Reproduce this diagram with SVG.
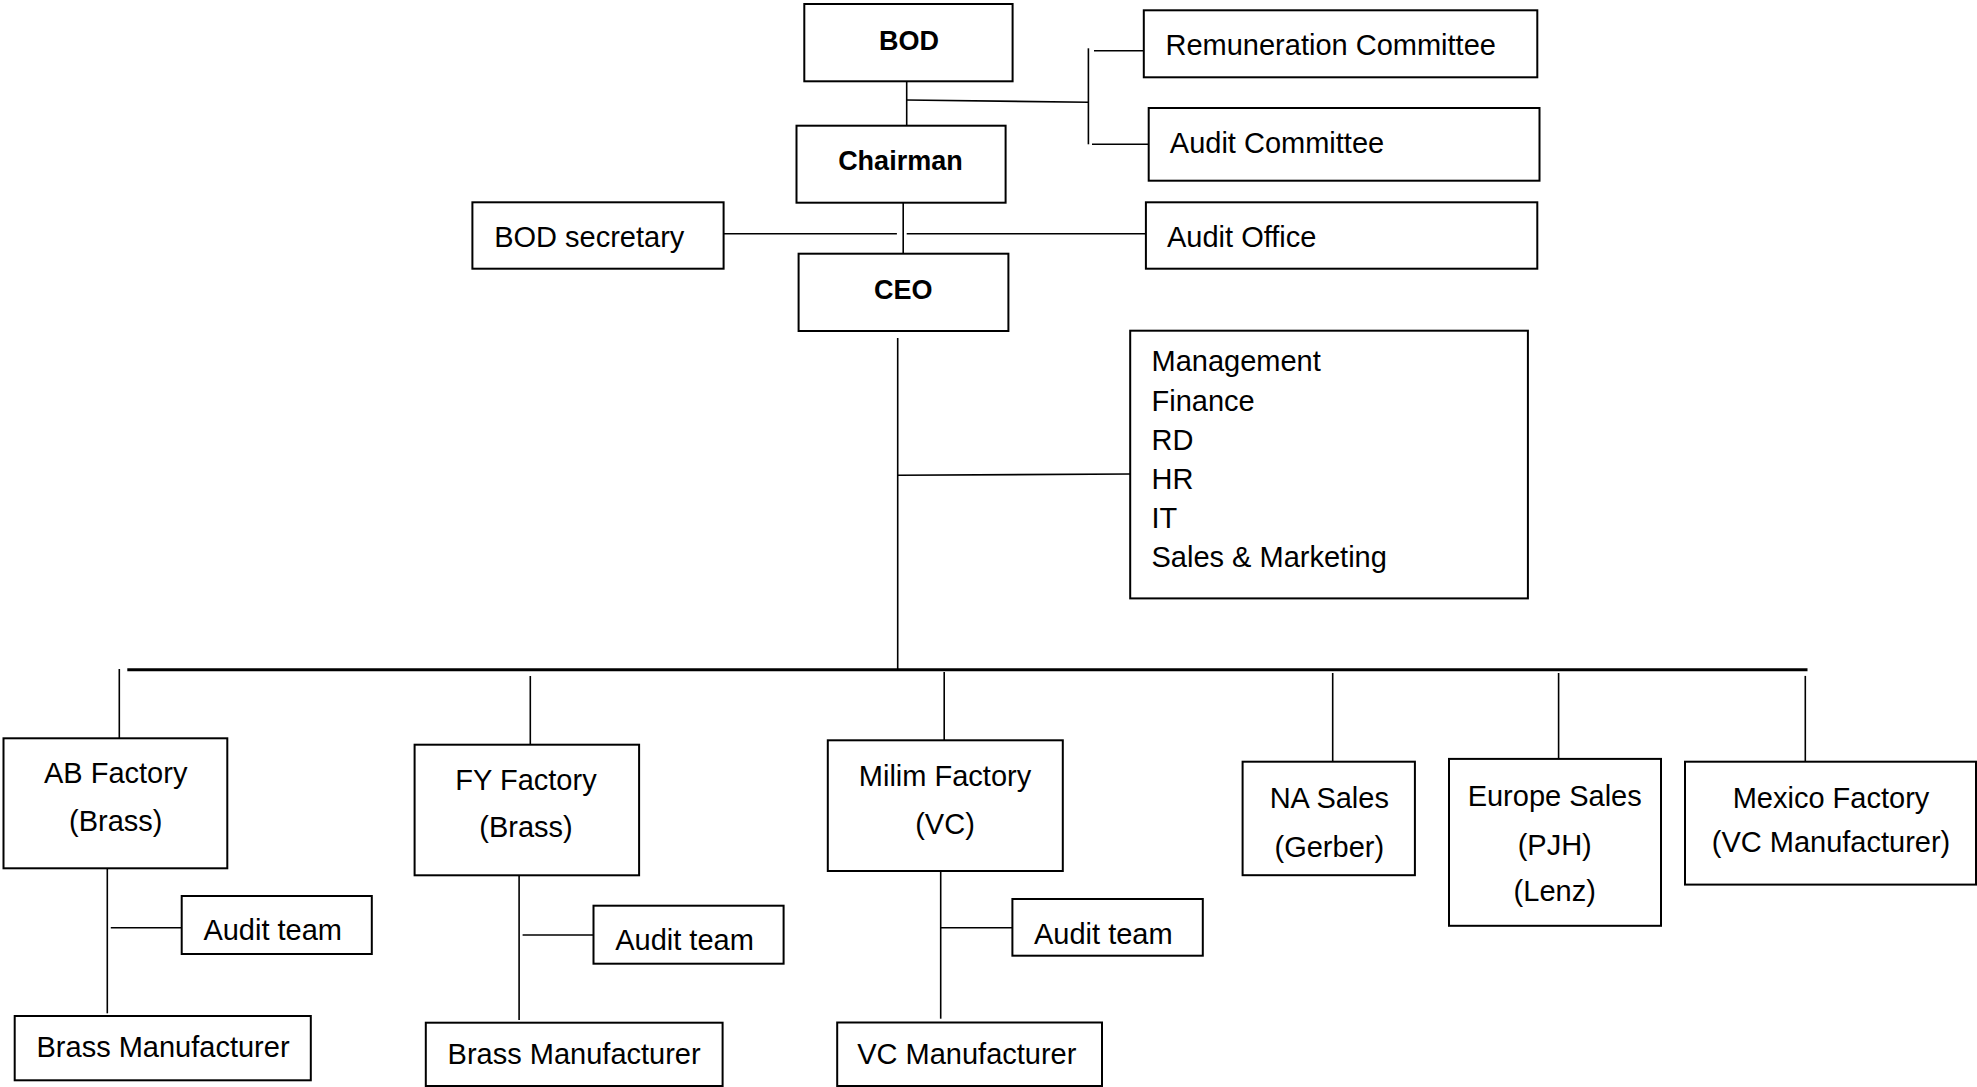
<svg xmlns="http://www.w3.org/2000/svg" width="1977" height="1087" viewBox="0 0 1977 1087">
<style>
.box{fill:#fff;stroke:#000;stroke-width:2}
.t{font-family:"Liberation Sans",Arial,sans-serif;font-size:29px;fill:#000}
.b{font-family:"Liberation Sans",Arial,sans-serif;font-size:27px;font-weight:bold;fill:#000}
.c{text-anchor:middle}
.ln{stroke:#000;stroke-width:1.6;fill:none}
.bus{stroke:#000;stroke-width:3;fill:none}
</style>
<rect width="1977" height="1087" fill="#fff"/>
<g id="connectors">
<line class="ln" x1="906.7" y1="81" x2="906.7" y2="126"/>
<line class="ln" x1="906.7" y1="100" x2="1088.4" y2="102.3"/>
<line class="ln" x1="1088.4" y1="48.3" x2="1088.4" y2="144.3"/>
<line class="ln" x1="1094" y1="50.7" x2="1143.8" y2="50.7"/>
<line class="ln" x1="1092" y1="144.3" x2="1148.7" y2="144.3"/>
<line class="ln" x1="903.2" y1="202.7" x2="903.2" y2="253.7"/>
<line class="ln" x1="723.6" y1="233.7" x2="896.9" y2="233.7"/>
<line class="ln" x1="906.7" y1="233.7" x2="1145.9" y2="233.7"/>
<line class="ln" x1="897.7" y1="338" x2="897.7" y2="669"/>
<line class="ln" x1="897.7" y1="475.3" x2="1130.2" y2="474"/>
<line class="bus" x1="127.3" y1="669.8" x2="1807.5" y2="669.8"/>
<line class="ln" x1="119.3" y1="669" x2="119.3" y2="738.3"/>
<line class="ln" x1="530.3" y1="676" x2="530.3" y2="744.7"/>
<line class="ln" x1="944.2" y1="672" x2="944.2" y2="740.3"/>
<line class="ln" x1="1332.7" y1="673" x2="1332.7" y2="761.7"/>
<line class="ln" x1="1558.6" y1="673" x2="1558.6" y2="758.9"/>
<line class="ln" x1="1805.3" y1="675.9" x2="1805.3" y2="761.7"/>
<line class="ln" x1="107.3" y1="868.3" x2="107.3" y2="1013.3"/>
<line class="ln" x1="110.8" y1="927.7" x2="181.7" y2="927.7"/>
<line class="ln" x1="519.1" y1="875.3" x2="519.1" y2="1020"/>
<line class="ln" x1="522.6" y1="935" x2="593.5" y2="935"/>
<line class="ln" x1="940.7" y1="871" x2="940.7" y2="1018.7"/>
<line class="ln" x1="940.7" y1="927.7" x2="1012.4" y2="927.7"/>
</g>
<g id="bod"><rect class="box" x="804.3" y="4" width="208.3" height="77.3"/><text class="b c" x="909" y="50">BOD</text></g>
<g id="remuneration"><rect class="box" x="1143.8" y="10.3" width="393.5" height="67"/><text class="t" x="1165.5" y="55">Remuneration Committee</text></g>
<g id="audit-committee"><rect class="box" x="1148.7" y="108" width="390.8" height="72.7"/><text class="t" x="1169.8" y="153.3">Audit Committee</text></g>
<g id="chairman"><rect class="box" x="796.5" y="125.7" width="209.1" height="77"/><text class="b c" x="900.4" y="170">Chairman</text></g>
<g id="bod-secretary"><rect class="box" x="472.4" y="202.3" width="251.2" height="66.4"/><text class="t" x="494.2" y="246.7">BOD secretary</text></g>
<g id="audit-office"><rect class="box" x="1145.9" y="202.3" width="391.4" height="66.4"/><text class="t" x="1167" y="246.7">Audit Office</text></g>
<g id="ceo"><rect class="box" x="798.6" y="253.7" width="209.8" height="77.3"/><text class="b c" x="903.2" y="299">CEO</text></g>
<g id="departments"><rect class="box" x="1130.2" y="330.7" width="397.7" height="267.7"/>
<text class="t" x="1151.5" y="371.4">Management</text>
<text class="t" x="1151.5" y="410.6">Finance</text>
<text class="t" x="1151.5" y="449.8">RD</text>
<text class="t" x="1151.5" y="489">HR</text>
<text class="t" x="1151.5" y="528.2">IT</text>
<text class="t" x="1151.5" y="567.4">Sales &amp; Marketing</text></g>
<g id="ab-factory"><rect class="box" x="3.5" y="738.3" width="223.8" height="130"/><text class="t c" x="115.7" y="783.3">AB Factory</text><text class="t c" x="115.7" y="831">(Brass)</text></g>
<g id="fy-factory"><rect class="box" x="414.6" y="744.7" width="224.5" height="130.6"/><text class="t c" x="526" y="790">FY Factory</text><text class="t c" x="526" y="837.3">(Brass)</text></g>
<g id="milim-factory"><rect class="box" x="827.8" y="740.3" width="235" height="130.7"/><text class="t c" x="945" y="786">Milim Factory</text><text class="t c" x="945" y="834">(VC)</text></g>
<g id="na-sales"><rect class="box" x="1242.6" y="761.7" width="172.3" height="113.5"/><text class="t c" x="1329.3" y="808.3">NA Sales</text><text class="t c" x="1329.3" y="856.6">(Gerber)</text></g>
<g id="europe-sales"><rect class="box" x="1449" y="758.9" width="212" height="166.9"/><text class="t c" x="1554.7" y="805.6">Europe Sales</text><text class="t c" x="1554.7" y="854.6">(PJH)</text><text class="t c" x="1554.7" y="901.3">(Lenz)</text></g>
<g id="mexico-factory"><rect class="box" x="1685" y="761.7" width="291" height="122.9"/><text class="t c" x="1831" y="808.3">Mexico Factory</text><text class="t c" x="1831" y="851.8">(VC Manufacturer)</text></g>
<g id="audit-team-1"><rect class="box" x="181.7" y="896" width="190.1" height="58"/><text class="t" x="203.4" y="940">Audit team</text></g>
<g id="audit-team-2"><rect class="box" x="593.5" y="905.7" width="190.1" height="58"/><text class="t" x="615.2" y="950">Audit team</text></g>
<g id="audit-team-3"><rect class="box" x="1012.4" y="899" width="190.4" height="56.7"/><text class="t" x="1034" y="944">Audit team</text></g>
<g id="brass-manufacturer-1"><rect class="box" x="14.7" y="1016" width="296.1" height="64.3"/><text class="t" x="36.5" y="1057.3">Brass Manufacturer</text></g>
<g id="brass-manufacturer-2"><rect class="box" x="425.8" y="1022.7" width="296.8" height="63.3"/><text class="t" x="447.6" y="1064.3">Brass Manufacturer</text></g>
<g id="vc-manufacturer"><rect class="box" x="837.2" y="1022.5" width="264.8" height="63.5"/><text class="t" x="857.2" y="1064.3">VC Manufacturer</text></g>
</svg>
